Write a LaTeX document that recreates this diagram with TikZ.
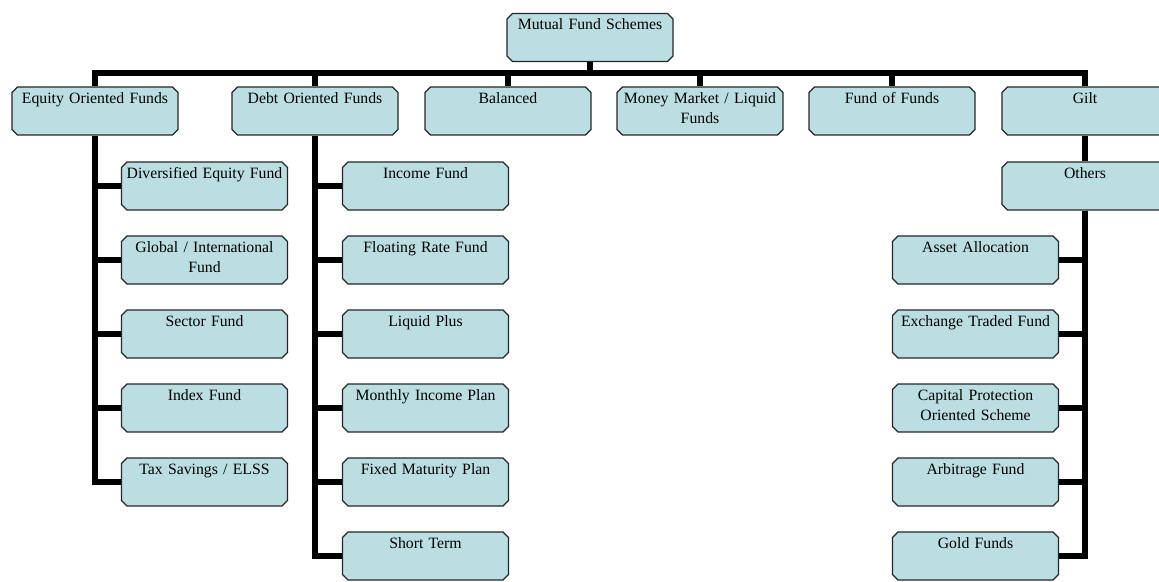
\documentclass[tikz,border=0pt]{standalone}
\usepackage{fontspec}
\setmainfont{Liberation Serif}
\usetikzlibrary{shapes.misc}
\definecolor{fundfill}{RGB}{186,222,226}
\begin{document}
\begin{tikzpicture}[x=0.025cm,y=-0.025cm,
    fundbox/.style={chamfered rectangle,chamfered rectangle xsep=2pt,chamfered rectangle ysep=2pt,
      draw=black!85,line width=0.9pt,fill=fundfill,text width=4.01cm,align=center,
      inner xsep=0pt,inner ysep=0pt,text height=0.34cm,text depth=0.72cm,
      font=\fontsize{11.2}{14.2}\selectfont},
    link/.style={line width=4pt}]
    \useasboundingbox (0,0) rectangle (1159,581);
    % top row
    \node[fundbox] (root) at (590,37.5) {Mutual Fund Schemes};
    \node[fundbox] (equity) at (95,111) {Equity Oriented Funds};
    \node[fundbox] (debt) at (315,111) {Debt Oriented Funds};
    \node[fundbox] (balanced) at (508,111) {Balanced};
    \node[fundbox] (money) at (700,111) {Money Market / Liquid\\Funds};
    \node[fundbox] (fof) at (892,111) {Fund of Funds};
    \node[fundbox] (gilt) at (1085,111) {Gilt};
    \node[fundbox] (others) at (1085,186) {Others};
    % equity column
    \node[fundbox] (eqdiv) at (204.5,186) {Diversified Equity Fund};
    \node[fundbox] (eqglobal) at (204.5,260) {Global / International\\Fund};
    \node[fundbox] (eqsector) at (204.5,334) {Sector Fund};
    \node[fundbox] (eqindex) at (204.5,408) {Index Fund};
    \node[fundbox] (eqtax) at (204.5,482) {Tax Savings / ELSS};
    % debt column
    \node[fundbox] (dbincome) at (425.5,186) {Income Fund};
    \node[fundbox] (dbfloat) at (425.5,260) {Floating Rate Fund};
    \node[fundbox] (dbliquid) at (425.5,334) {Liquid Plus};
    \node[fundbox] (dbmip) at (425.5,408) {Monthly Income Plan};
    \node[fundbox] (dbfmp) at (425.5,482) {Fixed Maturity Plan};
    \node[fundbox] (dbshort) at (425.5,556) {Short Term};
    % others column
    \node[fundbox] (otasset) at (975.5,260) {Asset Allocation};
    \node[fundbox] (otetf) at (975.5,334) {Exchange Traded Fund};
    \node[fundbox] (otcap) at (975.5,408) {Capital Protection\\Oriented Scheme};
    \node[fundbox] (otarb) at (975.5,482) {Arbitrage Fund};
    \node[fundbox] (otgold) at (975.5,556) {Gold Funds};
    % bus
    \coordinate (bus) at (590,73);
    \draw[link] (root.south) -- (root.south |- bus);
    \draw[link] (equity.north) -- (equity.north |- bus) -- (gilt.north |- bus) -- (gilt.north);
    \foreach \n in {debt,balanced,money,fof}
      \draw[link] (\n.north) -- (\n.north |- bus);
    % spines
    \draw[link] (equity.south) |- (eqtax.west);
    \foreach \c in {eqdiv,eqglobal,eqsector,eqindex}
      \draw[link] (equity.south |- \c.west) -- (\c.west);
    \draw[link] (debt.south) |- (dbshort.west);
    \foreach \c in {dbincome,dbfloat,dbliquid,dbmip,dbfmp}
      \draw[link] (debt.south |- \c.west) -- (\c.west);
    \draw[link] (gilt.south) -- (others.north);
    \draw[link] (others.south) |- (otgold.east);
    \foreach \c in {otasset,otetf,otcap,otarb}
      \draw[link] (others.south |- \c.east) -- (\c.east);
\end{tikzpicture}
\end{document}
